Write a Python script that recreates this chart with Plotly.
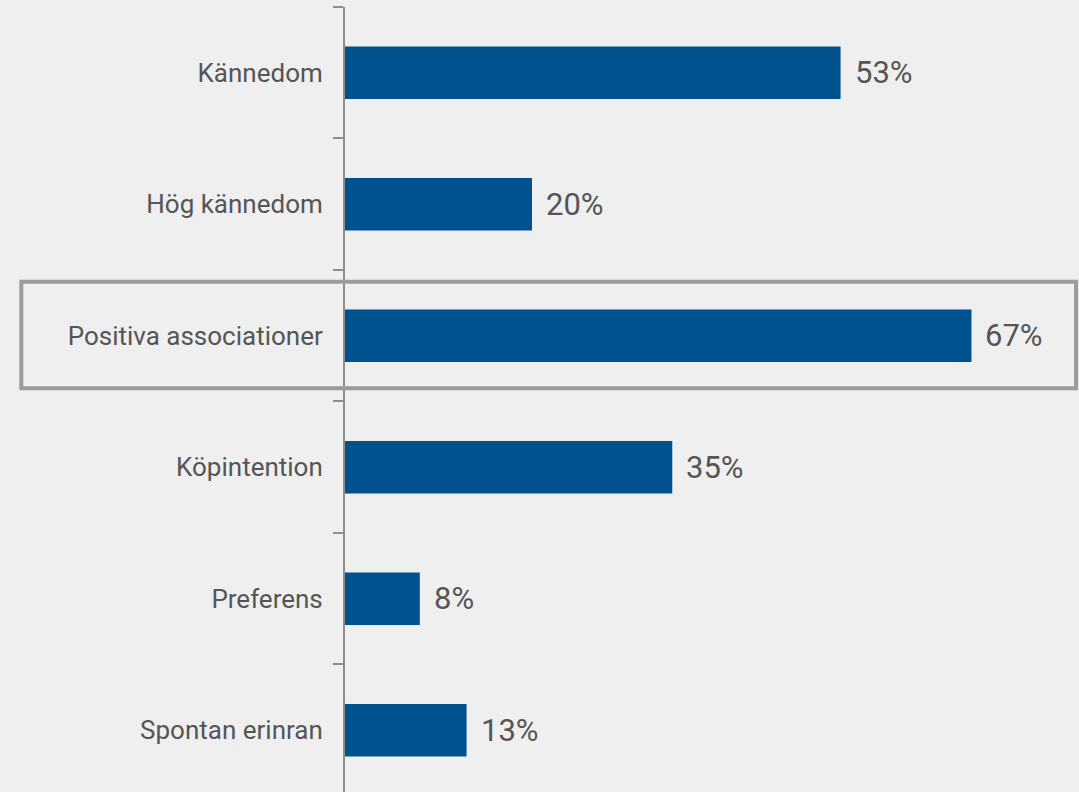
import plotly.graph_objects as go

categories = ["Kännedom", "Hög kännedom", "Positiva associationer", "Köpintention", "Preferens", "Spontan erinran"]
values = [53, 20, 67, 35, 8, 13]
value_labels = ["53%", "20%", "67%", "35%", "8%", "13%"]
highlight = "Positiva associationer"

BG = "#efefef"
BAR = "#00528f"
TXT = "#555555"
AX = "#8c8e8d"
FONT = "Roboto"

fig = go.Figure()
fig.add_trace(go.Bar(
    y=categories, x=values, orientation="h",
    marker=dict(color=BAR, line=dict(width=0)),
    width=0.4, hoverinfo="skip", showlegend=False,
))

for c, v, t in zip(categories, values, value_labels):
    fig.add_annotation(x=v, y=c, text=t, xref="x", yref="y", showarrow=False,
                       xanchor="left", yanchor="middle", xshift=12,
                       font=dict(family=FONT, size=31, color=TXT))

hi = categories.index(highlight)
fig.add_shape(type="rect", xref="paper", yref="y",
              x0=-0.441, x1=0.996, y0=hi - 0.41, y1=hi + 0.40,
              line=dict(color="#9a9d9c", width=4), layer="above")

fig.update_layout(
    width=1079, height=792,
    paper_bgcolor=BG, plot_bgcolor=BG,
    margin=dict(l=345, r=0, t=7, b=0),
    font=dict(family=FONT, color=TXT),
)
fig.update_xaxes(range=[0, 78.5], visible=False, showgrid=False, zeroline=False, fixedrange=True)
fig.update_yaxes(
    type="category", categoryorder="array", categoryarray=categories,
    range=[5.47, -0.5], showgrid=False, zeroline=False,
    showline=True, linecolor=AX, linewidth=2,
    ticks="outside", tickson="boundaries", ticklen=10, tickcolor=AX, tickwidth=2,
    tickfont=dict(family=FONT, size=26, color=TXT), ticklabelstandoff=15,
)

fig.write_html("out.html", config={"displayModeBar": False},
               post_script="document.body.style.margin='0';document.body.style.background='#efefef';document.body.style.overflow='hidden';")
